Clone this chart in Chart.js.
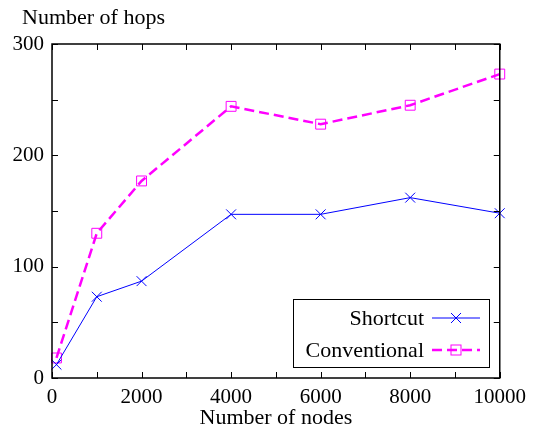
<!DOCTYPE html>
<html>
<head>
  <title>Number of hops vs nodes</title>
  <style>
    body {
      margin: 0;
      padding: 0;
      background-color: white;
    }
    #wrap {
      width: 533px;
      height: 431px;
    }
  </style>
</head>
<body>
  <div id="wrap">
    <canvas id="hops" width="533" height="431"></canvas>
  </div>

  <script src="https://cdn.jsdelivr.net/npm/chart.js"></script>
  <script>
    // data
    const nodes = [100, 1000, 2000, 4000, 6000, 8000, 10000];
    const shortcutHops = [12, 73, 87, 147, 147, 162, 148];
    const conventionalHops = [18, 130, 177, 244, 228, 245, 273];
    const seriesNames = ["Shortcut", "Conventional"];
    const xLabelEvery = 2000;
    const yLabelEvery = 100;

    const serif = "'Liberation Serif', 'DejaVu Serif', serif";
    const blue = "#0000ff";
    const magenta = "#ff00ff";

    function toPoints(xs, ys) {
      return xs.map((x, i) => ({ x: x, y: ys[i] }));
    }

    // frame + inward ticks on all four sides, axis title on top left, legend box
    const framePlugin = {
      id: "frame",
      afterDraw(chart) {
        const ctx = chart.ctx;
        const a = chart.chartArea;
        const xs = chart.scales.x;
        const ys = chart.scales.y;
        ctx.save();
        ctx.strokeStyle = "black";
        ctx.lineWidth = 1.5;
        ctx.strokeRect(a.left, a.top, a.right - a.left, a.bottom - a.top);

        ctx.lineWidth = 1;
        ctx.beginPath();
        xs.ticks.forEach(t => {
          const px = Math.round(xs.getPixelForValue(t.value)) + 0.5;
          ctx.moveTo(px, a.bottom);
          ctx.lineTo(px, a.bottom - 6);
          ctx.moveTo(px, a.top);
          ctx.lineTo(px, a.top + 6);
        });
        ys.ticks.forEach(t => {
          const py = Math.round(ys.getPixelForValue(t.value)) + 0.5;
          ctx.moveTo(a.left, py);
          ctx.lineTo(a.left + 6, py);
          ctx.moveTo(a.right, py);
          ctx.lineTo(a.right - 6, py);
        });
        ctx.stroke();

        ctx.fillStyle = "black";
        ctx.font = "22px " + serif;
        ctx.textAlign = "left";
        ctx.textBaseline = "middle";
        ctx.fillText("Number of hops", 22, 18);

        // legend
        const box = { left: 293, top: 299, right: 489, bottom: 367 };
        ctx.lineWidth = 1;
        ctx.strokeRect(box.left + 0.5, box.top + 0.5, box.right - box.left, box.bottom - box.top);
        chart.data.datasets.forEach((ds, i) => {
          const cy = 318 + i * 32;
          ctx.fillStyle = "black";
          ctx.textAlign = "right";
          ctx.fillText(ds.label, 424, cy + 1);
          ctx.strokeStyle = ds.borderColor;
          ctx.lineWidth = ds.borderWidth;
          ctx.setLineDash(ds.borderDash || []);
          ctx.beginPath();
          ctx.moveTo(432, cy);
          ctx.lineTo(480, cy);
          ctx.stroke();
          ctx.setLineDash([]);
          ctx.lineWidth = 1;
          if (ds.pointStyle === "rect") {
            ctx.strokeRect(451, cy - 5, 10, 10);
          } else {
            ctx.beginPath();
            ctx.moveTo(451, cy - 5);
            ctx.lineTo(461, cy + 5);
            ctx.moveTo(461, cy - 5);
            ctx.lineTo(451, cy + 5);
            ctx.stroke();
          }
        });
        ctx.restore();
      }
    };

    const ctx = document.getElementById("hops").getContext("2d");
    new Chart(ctx, {
      type: "line",
      data: {
        datasets: [
          {
            label: seriesNames[0],
            data: toPoints(nodes, shortcutHops),
            borderColor: blue,
            borderWidth: 1,
            pointStyle: "crossRot",
            pointRadius: 7,
            pointBorderWidth: 1,
            pointBorderColor: blue,
            pointBackgroundColor: "transparent",
            clip: false
          },
          {
            label: seriesNames[1],
            data: toPoints(nodes, conventionalHops),
            borderColor: magenta,
            borderWidth: 2.5,
            borderDash: [10, 5],
            pointStyle: "rect",
            pointRadius: 7,
            pointBorderWidth: 1,
            pointBorderColor: magenta,
            pointBackgroundColor: "transparent",
            clip: false
          }
        ]
      },
      options: {
        responsive: false,
        animation: false,
        layout: { padding: { top: 44, right: 32, left: 0, bottom: 0 } },
        plugins: {
          legend: { display: false },
          tooltip: { enabled: false }
        },
        scales: {
          x: {
            type: "linear",
            min: 0,
            max: 10000,
            grid: { display: false, drawTicks: false },
            border: { display: false },
            ticks: {
              stepSize: 1000,
              autoSkip: false,
              maxRotation: 0,
              padding: 7,
              color: "black",
              font: { family: serif, size: 21 },
              callback: v => (v % xLabelEvery === 0 ? String(v) : "")
            },
            title: {
              display: true,
              text: "Number of nodes",
              color: "black",
              font: { family: serif, size: 22 },
              padding: { top: 0, bottom: 0 }
            },
            afterFit: s => { s.height = 53; }
          },
          y: {
            min: 0,
            max: 300,
            grid: { display: false, drawTicks: false },
            border: { display: false },
            ticks: {
              stepSize: 50,
              autoSkip: false,
              padding: 8,
              color: "black",
              font: { family: serif, size: 21 },
              callback: v => (v % yLabelEvery === 0 ? String(v) : "")
            },
            afterFit: s => { s.width = 52; }
          }
        }
      },
      plugins: [framePlugin]
    });
  </script>
</body>
</html>
